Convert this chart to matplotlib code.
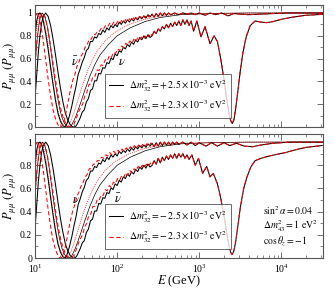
import numpy as np
import matplotlib
matplotlib.use("Agg")
import matplotlib.pyplot as plt
from matplotlib.ticker import LogLocator, MultipleLocator, FuncFormatter, NullFormatter

plt.rcParams['font.family'] = ['Liberation Serif', 'DejaVu Serif']
plt.rcParams['mathtext.fontset'] = 'stix'

# ---- data (x = log10 E/GeV, y = survival probability) ----
# low-energy part, upper wiggly curve (top: anti-nu, bottom: nu)
LO_UP_BK_X = [1.00, 1.02, 1.04, 1.06, 1.08, 1.10, 1.13, 1.16, 1.19, 1.22, 1.25, 1.28, 1.31, 1.34,
              1.366, 1.39, 1.42, 1.45, 1.475, 1.50, 1.525,
              1.55, 1.575, 1.60, 1.625, 1.65, 1.675, 1.70, 1.725, 1.75, 1.775, 1.80, 1.825,
              1.85, 1.875, 1.90, 1.925, 1.95, 1.975, 2.00, 2.025, 2.05, 2.075, 2.10, 2.125,
              2.15, 2.175, 2.20, 2.225, 2.25, 2.275, 2.30, 2.325, 2.35, 2.375, 2.40]
LO_UP_BK_P = [0.80, 0.93, 0.99, 1.00, 0.98, 0.93, 0.82, 0.68, 0.52, 0.37, 0.23, 0.12, 0.05, 0.01,
              0.00, 0.03, 0.10, 0.19, 0.28, 0.36, 0.46,
              0.51, 0.57, 0.61, 0.67, 0.69, 0.75, 0.75, 0.79, 0.78, 0.82, 0.81, 0.85,
              0.83, 0.87, 0.85, 0.89, 0.87, 0.90, 0.88, 0.92, 0.90, 0.93, 0.91, 0.94,
              0.92, 0.95, 0.93, 0.96, 0.94, 0.97, 0.95, 0.975, 0.955, 0.985, 0.965]

LO_UP_RD_X = [1.00, 1.03, 1.05, 1.07, 1.10, 1.13, 1.16, 1.19, 1.22, 1.25, 1.28, 1.30, 1.32, 1.345,
              1.37, 1.40, 1.43, 1.46, 1.49, 1.51,
              1.535, 1.56, 1.585, 1.61, 1.635, 1.66, 1.685, 1.71, 1.735, 1.76, 1.785, 1.81,
              1.835, 1.86, 1.885, 1.91, 1.935, 1.96, 1.985, 2.01, 2.035, 2.06, 2.085, 2.11,
              2.135, 2.16, 2.185, 2.21, 2.235, 2.26, 2.285, 2.31, 2.335, 2.36, 2.385, 2.41]
LO_UP_RD_P = [0.97, 1.00, 0.97, 0.90, 0.76, 0.59, 0.42, 0.27, 0.15, 0.07, 0.02, 0.00, 0.00, 0.03,
              0.10, 0.21, 0.32, 0.41, 0.47, 0.53,
              0.57, 0.62, 0.65, 0.70, 0.72, 0.77, 0.77, 0.81, 0.81, 0.84, 0.84, 0.87,
              0.86, 0.89, 0.88, 0.91, 0.89, 0.92, 0.90, 0.93, 0.91, 0.94, 0.92, 0.95,
              0.93, 0.96, 0.94, 0.97, 0.945, 0.975, 0.955, 0.98, 0.96, 0.985, 0.965, 0.99]

# low-energy part, lower wiggly curve (top: nu, bottom: anti-nu)
LO_DN_BK_X = [1.00, 1.02, 1.04, 1.06, 1.08, 1.10, 1.13, 1.16, 1.19, 1.22, 1.25, 1.28, 1.31, 1.34,
              1.37, 1.40, 1.43, 1.46, 1.488, 1.51, 1.53, 1.55,
              1.575, 1.60, 1.625, 1.65, 1.675, 1.70, 1.725, 1.75, 1.775, 1.80, 1.825, 1.85,
              1.875, 1.90, 1.925, 1.95, 1.975, 2.00, 2.025, 2.05, 2.075, 2.10, 2.125, 2.15,
              2.175, 2.20, 2.225, 2.25, 2.275, 2.30, 2.325, 2.35, 2.375, 2.40]
LO_DN_BK_P = [0.25, 0.45, 0.65, 0.80, 0.91, 0.97, 1.00, 0.97, 0.89, 0.77, 0.63, 0.48, 0.34, 0.22,
              0.12, 0.06, 0.02, 0.00, 0.00, 0.02, 0.05, 0.08,
              0.13, 0.15, 0.22, 0.25, 0.32, 0.335, 0.405, 0.405, 0.47, 0.465, 0.52, 0.515,
              0.565, 0.555, 0.605, 0.59, 0.64, 0.625, 0.67, 0.655, 0.70, 0.685, 0.725, 0.705,
              0.745, 0.725, 0.765, 0.745, 0.785, 0.765, 0.80, 0.775, 0.81, 0.785]

LO_DN_RD_X = [1.00, 1.02, 1.04, 1.06, 1.08, 1.10, 1.13, 1.16, 1.19, 1.22, 1.25, 1.28, 1.31, 1.34,
              1.37, 1.40, 1.44, 1.47, 1.50, 1.53,
              1.555, 1.58, 1.605, 1.63, 1.655, 1.68, 1.705, 1.73, 1.755, 1.78, 1.805, 1.83,
              1.855, 1.88, 1.905, 1.93, 1.955, 1.98, 2.005, 2.03, 2.055, 2.08, 2.105, 2.13,
              2.155, 2.18, 2.205, 2.23, 2.255, 2.28, 2.305, 2.33, 2.355, 2.38, 2.405]
LO_DN_RD_P = [0.55, 0.72, 0.86, 0.95, 0.99, 1.00, 0.95, 0.85, 0.71, 0.56, 0.41, 0.28, 0.17, 0.09,
              0.04, 0.01, 0.00, 0.02, 0.07, 0.13,
              0.17, 0.20, 0.27, 0.30, 0.37, 0.38, 0.445, 0.445, 0.50, 0.495, 0.545, 0.54,
              0.59, 0.58, 0.625, 0.61, 0.655, 0.645, 0.685, 0.67, 0.71, 0.695, 0.735, 0.715,
              0.755, 0.735, 0.77, 0.75, 0.79, 0.77, 0.80, 0.78, 0.81, 0.79, 0.82]

# smooth thin curves (same in both panels)
SM_BK_X = [1.00, 1.03, 1.06, 1.09, 1.12, 1.15, 1.18, 1.21, 1.24, 1.27, 1.30, 1.33, 1.36, 1.39,
           1.415, 1.44, 1.47, 1.50, 1.55, 1.61, 1.67, 1.73, 1.79, 1.89, 2.00, 2.16, 2.34, 2.52,
           2.77, 3.13, 3.60, 4.55]
SM_BK_P = [0.55, 0.80, 0.95, 1.00, 0.97, 0.88, 0.74, 0.58, 0.42, 0.28, 0.16, 0.08, 0.03, 0.005,
           0.00, 0.01, 0.05, 0.10, 0.20, 0.33, 0.45, 0.55, 0.63, 0.72, 0.80, 0.87, 0.925, 0.96,
           0.985, 0.995, 1.00, 1.00]
SM_RD_X = [1.00, 1.03, 1.05, 1.07, 1.10, 1.13, 1.16, 1.19, 1.22, 1.25, 1.28, 1.31, 1.34, 1.38,
           1.41, 1.44, 1.47, 1.52, 1.58, 1.64, 1.70, 1.76, 1.86, 1.97, 2.13, 2.31, 2.50, 2.75,
           3.10, 3.60, 4.55]
SM_RD_P = [0.75, 0.92, 0.98, 1.00, 0.96, 0.86, 0.71, 0.55, 0.39, 0.25, 0.14, 0.06, 0.02, 0.00,
           0.02, 0.06, 0.12, 0.23, 0.37, 0.49, 0.59, 0.67, 0.76, 0.83, 0.895, 0.94, 0.97, 0.99,
           0.997, 1.00, 1.00]

# high-energy parts (black and red coincide here)
TOP_HI_UP_X = [2.425, 2.45, 2.475, 2.50, 2.525, 2.55, 2.575, 2.60, 2.625, 2.65, 2.70, 2.75, 2.80,
               2.85, 2.90, 2.95, 3.00, 3.07, 3.13, 3.20, 3.27, 3.35, 3.42, 3.50, 3.60, 3.75, 3.90,
               4.10, 4.55]
TOP_HI_UP_P = [0.99, 0.965, 0.995, 0.97, 1.00, 0.975, 1.00, 0.98, 1.00, 0.985, 1.00, 0.985, 1.00,
               0.99, 1.00, 0.985, 1.00, 0.98, 1.00, 0.985, 1.00, 0.975, 0.995, 0.99, 0.985, 0.99,
               0.995, 1.00, 1.00]
TOP_HI_DIP_X = [2.425, 2.45, 2.475, 2.50, 2.525, 2.55, 2.575, 2.60, 2.625, 2.65, 2.675, 2.70,
                2.725, 2.75, 2.775, 2.80, 2.825, 2.85, 2.875, 2.90, 2.93, 2.97, 3.02, 3.07, 3.13,
                3.18, 3.22, 3.26, 3.30, 3.33, 3.36, 3.38, 3.40, 3.42, 3.44, 3.47, 3.50, 3.53,
                3.57, 3.62, 3.68, 3.75, 3.82, 3.90, 4.00, 4.15, 4.30, 4.55]
TOP_HI_DIP_P = [0.80, 0.84, 0.82, 0.86, 0.84, 0.88, 0.86, 0.90, 0.87, 0.91, 0.88, 0.92,
                0.89, 0.93, 0.89, 0.94, 0.90, 0.94, 0.89, 0.93, 0.84, 0.93, 0.79, 0.88, 0.73,
                0.80, 0.75, 0.60, 0.42, 0.26, 0.13, 0.06, 0.03, 0.06, 0.15, 0.32, 0.50, 0.65,
                0.79, 0.89, 0.93, 0.92, 0.915, 0.925, 0.945, 0.965, 0.98, 0.99]
BOT_HI_UP_X = [2.425, 2.45, 2.475, 2.50, 2.525, 2.55, 2.575, 2.60, 2.625, 2.65, 2.675, 2.70,
               2.725, 2.75, 2.80, 2.85, 2.90, 2.95, 3.00, 3.08, 3.15, 3.22, 3.30, 3.37, 3.45,
               3.55, 3.65, 3.75, 3.90, 4.10, 4.55]
BOT_HI_UP_P = [0.99, 0.96, 0.995, 0.965, 1.00, 0.97, 1.00, 0.975, 1.00, 0.975, 1.00, 0.98,
               1.00, 0.98, 1.00, 0.975, 1.00, 0.97, 0.995, 0.965, 0.995, 0.965, 0.995, 0.97,
               0.99, 0.965, 0.96, 0.975, 0.99, 1.00, 1.00]
BOT_HI_DIP_X = [2.425, 2.45, 2.475, 2.50, 2.525, 2.55, 2.575, 2.60, 2.625, 2.65, 2.675, 2.70,
                2.725, 2.75, 2.775, 2.80, 2.825, 2.85, 2.875, 2.91, 2.95, 2.99, 3.04, 3.09, 3.13,
                3.17, 3.22, 3.26, 3.30, 3.33, 3.36, 3.38, 3.40, 3.42, 3.44, 3.47, 3.50, 3.54,
                3.58, 3.63, 3.68, 3.75, 3.85, 3.95, 4.05, 4.15, 4.30, 4.55]
BOT_HI_DIP_P = [0.80, 0.84, 0.81, 0.86, 0.82, 0.87, 0.84, 0.88, 0.85, 0.89, 0.86, 0.90,
                0.86, 0.90, 0.87, 0.90, 0.86, 0.89, 0.85, 0.89, 0.80, 0.86, 0.73, 0.79, 0.70,
                0.73, 0.64, 0.52, 0.36, 0.23, 0.11, 0.05, 0.03, 0.06, 0.13, 0.28, 0.44, 0.60,
                0.70, 0.79, 0.84, 0.86, 0.88, 0.895, 0.91, 0.93, 0.955, 0.975]

LEGEND_TOP = [r'$\Delta m^2_{32} = +\,2.5\times10^{-3}\ \mathrm{eV}^2$',
              r'$\Delta m^2_{32} = +\,2.3\times10^{-3}\ \mathrm{eV}^2$']
LEGEND_BOT = [r'$\Delta m^2_{32} = -\,2.5\times10^{-3}\ \mathrm{eV}^2$',
              r'$\Delta m^2_{32} = -\,2.3\times10^{-3}\ \mathrm{eV}^2$']
PARAM_TEXT = [r'$\sin^2\alpha = 0.04$', r'$\Delta m^2_{43} = 1\ \mathrm{eV}^2$',
              r'$\cos\theta_z = -1$']

RED = '#ff0000'
FRAME = '#555555'
DASH = (0, (4, 2.5))


def curve(lo_x, lo_p, hi_x, hi_p):
    """join low and high energy pieces, return E in GeV and P"""
    x = np.concatenate([lo_x, hi_x])
    p = np.concatenate([lo_p, hi_p])
    return 10 ** x, p


def draw_panel(ax, hi_up_x, hi_up_p, hi_dn_x, hi_dn_p, labels):
    # smooth thin curves
    ax.plot(10 ** np.array(SM_BK_X), SM_BK_P, color='black', lw=0.5)
    ax.plot(10 ** np.array(SM_RD_X), SM_RD_P, color=RED, lw=0.5, ls=(0, (1.5, 1.5)))

    # wiggly curves, black first then red dashed on top
    e, p = curve(LO_UP_BK_X, LO_UP_BK_P, hi_up_x, hi_up_p)
    l1, = ax.plot(e, p, color='black', lw=0.75)
    e, p = curve(LO_DN_BK_X, LO_DN_BK_P, hi_dn_x, hi_dn_p)
    ax.plot(e, p, color='black', lw=0.75)
    e, p = curve(LO_UP_RD_X, LO_UP_RD_P, hi_up_x, hi_up_p)
    l2, = ax.plot(e, p, color=RED, lw=0.75, ls=DASH)
    e, p = curve(LO_DN_RD_X, LO_DN_RD_P, hi_dn_x, hi_dn_p)
    ax.plot(e, p, color=RED, lw=0.75, ls=DASH)

    ax.set_xscale('log')
    ax.set_xlim(10, 3.2e4)
    ax.set_ylim(0, 1.07)
    ax.xaxis.set_major_locator(LogLocator(base=10))
    ax.xaxis.set_minor_locator(LogLocator(base=10, subs=np.arange(2, 10)))
    ax.xaxis.set_minor_formatter(NullFormatter())
    ax.yaxis.set_major_locator(MultipleLocator(0.2))
    ax.yaxis.set_minor_locator(MultipleLocator(0.1))
    ax.yaxis.set_major_formatter(FuncFormatter(lambda v, pos: f'{v:g}'))
    ax.tick_params(which='both', direction='in', top=True, right=True,
                   labelsize=7, color=FRAME, pad=2)
    ax.tick_params(which='major', length=4, width=0.6)
    ax.tick_params(which='minor', length=2, width=0.5)
    for s in ax.spines.values():
        s.set_color(FRAME)
        s.set_linewidth(0.8)
    ax.set_ylabel(r'$P_{\mu\mu}\ (\bar{P}_{\mu\mu})$', fontsize=9, labelpad=1)

    leg = ax.legend([l1, l2], labels, loc='lower left', bbox_to_anchor=(0.243, 0.07),
                    borderaxespad=0, fontsize=7, frameon=True, fancybox=False,
                    handlelength=1.4, handletextpad=0.6, borderpad=0.45,
                    labelspacing=0.45)
    leg.get_frame().set_edgecolor('#444444')
    leg.get_frame().set_linewidth(0.7)


fig = plt.figure(figsize=(3.34, 2.88), dpi=100)
ax1 = fig.add_axes([35 / 334, 1 - 127 / 288, 288 / 334, 122 / 288])
ax2 = fig.add_axes([35 / 334, 1 - 258 / 288, 288 / 334, 124 / 288])

draw_panel(ax1, TOP_HI_UP_X, TOP_HI_UP_P, TOP_HI_DIP_X, TOP_HI_DIP_P, LEGEND_TOP)
draw_panel(ax2, BOT_HI_UP_X, BOT_HI_UP_P, BOT_HI_DIP_X, BOT_HI_DIP_P, LEGEND_BOT)

ax1.tick_params(labelbottom=False)
ax2.tick_params(axis='x', pad=3)
ax2.set_xlabel(r'$E$ (GeV)', fontsize=9)
ax2.xaxis.set_label_coords(0.5, -0.125)

# nu / anti-nu labels
ax1.text(30.5, 0.57, r'$\bar{\nu}$', fontsize=9, ha='center', va='center')
ax1.text(115, 0.57, r'$\nu$', fontsize=9, ha='center', va='center')
ax2.text(31.5, 0.50, r'$\nu$', fontsize=9, ha='center', va='center')
ax2.text(103, 0.51, r'$\bar{\nu}$', fontsize=9, ha='center', va='center')

for i, t in enumerate(PARAM_TEXT):
    ax2.text(0.79, 0.38 - 0.12 * i, t, transform=ax2.transAxes, fontsize=7,
             ha='left', va='center')

fig.savefig('out.png', dpi=100)
